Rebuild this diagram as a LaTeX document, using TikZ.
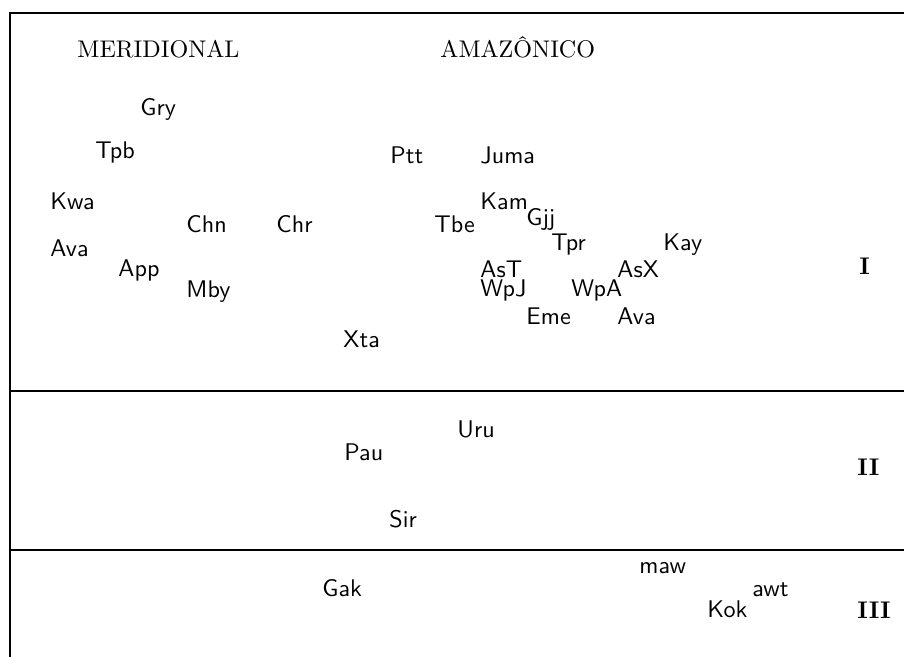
\documentclass[tikz,border=0pt]{standalone}
\begin{document}
\begin{tikzpicture}[x=0.415pt,y=-0.415pt,
  lang/.style={inner sep=0pt,anchor=base west,font=\sffamily},
  head/.style={inner sep=0pt,anchor=base west,font=\rmfamily},
  grp/.style={inner sep=0pt,anchor=base west,font=\rmfamily\bfseries},
  frame/.style={line width=1pt}]
\useasboundingbox (0,0) rectangle (904,657);
\coordinate (tr) at (904,13);
\coordinate (tl) at (10,13);
\coordinate (bl) at (10,657);
\coordinate (a1) at (10,391);
\coordinate (a2) at (904,391);
\coordinate (b1) at (10,550);
\coordinate (b2) at (904,550);
\draw[frame] (tr) -- (tl) -- (bl);
\draw[frame] (a1) -- (a2);
\draw[frame] (b1) -- (b2);
% headers
\node[head] (mer) at (77,58) {MERIDIONAL};
\node[head] (ama) at (440,58) {AMAZ\^ONICO};
% group I
\node[lang] (gry) at (140,116) {Gry};
\node[lang] (tpb) at (95,159) {Tpb};
\node[lang] (kwa) at (50,210) {Kwa};
\node[lang] (chn) at (186,233) {Chn};
\node[lang] (chr) at (276,233) {Chr};
\node[lang] (ava1) at (50,256) {Ava};
\node[lang] (app) at (118,276) {App};
\node[lang] (mby) at (186,297) {Mby};
\node[lang] (xta) at (343,347) {Xta};
\node[lang] (ptt) at (390,164) {Ptt};
\node[lang] (juma) at (480,164) {Juma};
\node[lang] (kam) at (480,210) {Kam};
\node[lang] (gjj) at (526,226) {Gjj};
\node[lang] (tbe) at (434,233) {Tbe};
\node[lang] (tpr) at (551,251) {Tpr};
\node[lang] (kay) at (663,251) {Kay};
\node[lang] (ast) at (480,277) {AsT};
\node[lang] (wpj) at (480,296) {WpJ};
\node[lang] (asx) at (617,277) {AsX};
\node[lang] (wpa) at (571,296) {WpA};
\node[lang] (eme) at (526,324) {Eme};
\node[lang] (ava2) at (617,324) {Ava};
\node[grp] (g1) at (859,275) {I};
% group II
\node[lang] (uru) at (457,437) {Uru};
\node[lang] (pau) at (344,460) {Pau};
\node[lang] (sir) at (389,527) {Sir};
\node[grp] (g2) at (857,475) {II};
% group III
\node[lang] (maw) at (639,573) {maw};
\node[lang] (awt) at (752,596) {awt};
\node[lang] (gak) at (322,596) {Gak};
\node[lang] (kok) at (707,617) {Kok};
\node[grp] (g3) at (857,618) {III};
\end{tikzpicture}
\end{document}
